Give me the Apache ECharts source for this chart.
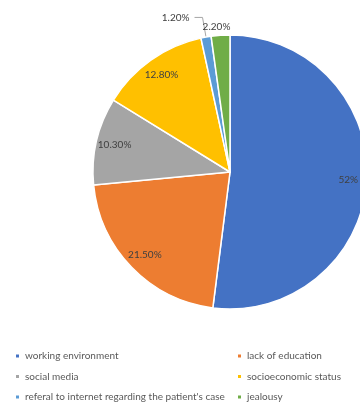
<!DOCTYPE html>
<html>
<head>
<meta charset="utf-8">
<script src="https://cdn.jsdelivr.net/npm/echarts@6/dist/echarts.min.js"></script>
<style>
  html, body { margin: 0; padding: 0; background: #fff; }
  #main { width: 360px; height: 404px; }
</style>
</head>
<body>
<div id="main"></div>
<script>
// data
var categories = ['working environment', 'lack of education', 'social media',
    'socioeconomic status', "referal to internet regarding the patient's case", 'jealousy'];
var values = [52, 21.5, 10.3, 12.8, 1.2, 2.2];
var valueLabels = ['52%', '21.50%', '10.30%', '12.80%', '1.20%', '2.20%'];
var colors = ['#4472C4', '#ED7D31', '#A5A5A5', '#FFC000', '#5B9BD5', '#70AD47'];
var insideIdx = [0, 1, 2, 3];   // labels drawn inside the slice

(function () {
    var myChart = echarts.init(document.getElementById('main'));
    var font = 'Lato, "Noto Sans", sans-serif';

    var mainData = categories.map(function (c, i) {
        var d = { name: c, value: values[i], itemStyle: { color: colors[i] } };
        if (insideIdx.indexOf(i) >= 0) {
            d.label = { show: false };
            d.labelLine = { show: false };
        } else if (i === 5) {
            // jealousy: sits straight above, no leader line
            d.labelLine = { show: false, length: 2, length2: 0 };
        }
        return d;
    });
    // transparent ring just for placing the inside labels near the rim
    var labelData = categories.map(function (c, i) {
        return {
            name: c, value: values[i],
            label: { show: insideIdx.indexOf(i) >= 0 }
        };
    });

    var legendText = { color: '#595959', fontSize: 10, fontFamily: font };

    option = {
        animation: false,
        color: colors,
        legend: [
            {
                orient: 'vertical', left: 14, top: 351, height: 60, padding: 0,
                itemGap: 10.5, itemWidth: 5, itemHeight: 5, icon: 'rect',
                textStyle: legendText,
                data: [categories[0], categories[2], categories[4]]
            },
            {
                orient: 'vertical', left: 236, top: 351, height: 60, padding: 0,
                itemGap: 10.5, itemWidth: 5, itemHeight: 5, icon: 'rect',
                textStyle: legendText,
                data: [categories[1], categories[3], categories[5]]
            }
        ],
        series: [
            {
                type: 'pie',
                center: [230, 172],
                radius: [0, 137],
                startAngle: 90,
                clockwise: true,
                avoidLabelOverlap: false,
                itemStyle: { borderColor: '#fff', borderWidth: 1.5 },
                label: {
                    show: true, position: 'outside',
                    formatter: function (p) { return valueLabels[p.dataIndex]; },
                    color: '#404040', fontSize: 10, fontFamily: font
                },
                labelLine: {
                    show: true, length: 20, length2: 8,
                    lineStyle: { color: '#A6A6A6', width: 1 }
                },
                labelLayout: function (p) {
                    if (p.dataIndex === 5) {
                        return { dx: 15, dy: -7 };
                    }
                },
                data: mainData
            },
            {
                type: 'pie',
                center: [230, 172],
                radius: [94, 137],
                startAngle: 90,
                clockwise: true,
                silent: true,
                legendHoverLink: false,
                itemStyle: { color: 'transparent', borderWidth: 0 },
                label: {
                    position: 'inside',
                    formatter: function (p) { return valueLabels[p.dataIndex]; },
                    color: '#404040', fontSize: 10, fontFamily: font
                },
                data: labelData
            }
        ]
    };

    myChart.setOption(option);
    window.addEventListener("resize", function () {
        myChart.resize();
    });
})();
</script>
</body>
</html>
